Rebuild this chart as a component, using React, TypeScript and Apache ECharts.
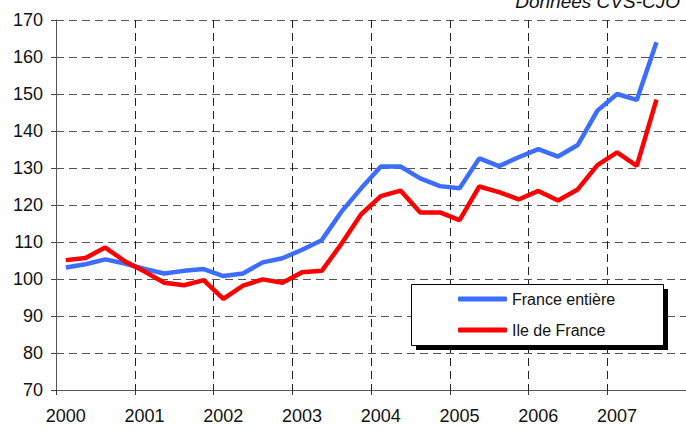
import React, { useEffect, useRef } from "react";
import * as echarts from "echarts";

const years = ["2000", "2001", "2002", "2003", "2004", "2005", "2006", "2007"];
const quarters = ["T1", "T2", "T3", "T4"];
const categories: string[] = [];
years.forEach((y) => quarters.forEach((q) => categories.push(y + q)));

const franceEntiere = [
  103.1, 104.0, 105.3, 104.2, 102.7, 101.5, 102.2, 102.7,
  100.8, 101.5, 104.5, 105.6, 107.9, 110.5, 118.2, 124.5,
  130.4, 130.4, 127.2, 125.1, 124.5, 132.6, 130.5, 132.9,
  135.1, 133.1, 136.2, 145.5, 150.0, 148.4, 164.0,
];
const ileDeFrance = [
  105.1, 105.7, 108.5, 104.8, 102.0, 99.0, 98.3, 99.7,
  94.6, 98.2, 99.9, 99.0, 101.8, 102.2, 109.5, 117.5,
  122.4, 123.9, 118.0, 118.0, 115.9, 125.0, 123.5, 121.5,
  123.8, 121.2, 124.2, 130.8, 134.2, 130.6, 148.5,
];
const seriesNames = ["France entière", "Ile de France"];
const sourceNote = "Données CVS-CJO";

const FONT = "'Liberation Sans', Arial, sans-serif";

export default function App() {
  const ref = useRef<HTMLDivElement>(null);
  useEffect(() => {
    if (!ref.current) return;
    const chart = echarts.init(ref.current, null, { renderer: "svg" });
    chart.setOption({
      animation: false,
      backgroundColor: "#ffffff",
      grid: { left: 56, top: 20, width: 639, height: 370, containLabel: false },
      xAxis: {
        type: "category",
        data: categories,
        boundaryGap: true,
        axisLine: { show: true, lineStyle: { color: "#555555", width: 1 } },
        axisTick: { show: true, interval: 3, length: 5, lineStyle: { color: "#333333" } },
        axisLabel: {
          interval: 3,
          margin: 17,
          color: "#111111",
          fontSize: 18,
          fontFamily: FONT,
          formatter: (v: string) => v.slice(0, 4),
        },
        splitLine: {
          show: true,
          interval: 3,
          lineStyle: { color: "#222222", type: [8, 5], width: 1 },
        },
      },
      yAxis: {
        type: "value",
        min: 70,
        max: 170,
        interval: 10,
        axisLine: { show: true, lineStyle: { color: "#555555", width: 1 } },
        axisTick: { show: true, length: 5, lineStyle: { color: "#444444" } },
        axisLabel: { margin: 13, color: "#111111", fontSize: 18, fontFamily: FONT },
        splitLine: { show: true, lineStyle: { color: "#555555", type: [8, 5], width: 1 } },
      },
      legend: {
        show: true,
        orient: "vertical",
        left: 458,
        top: 290,
        padding: 0,
        itemGap: 13,
        itemWidth: 49,
        itemHeight: 5,
        icon: "roundRect",
        textStyle: { fontSize: 16, lineHeight: 18, color: "#111111", fontFamily: FONT },
        data: seriesNames,
        z: 20,
      },
      graphic: [
        {
          type: "rect",
          z: 10,
          shape: { x: 416, y: 289, width: 252, height: 61 },
          style: { fill: "#000000" },
        },
        {
          type: "rect",
          z: 11,
          shape: { x: 411.5, y: 284.5, width: 252, height: 61 },
          style: { fill: "#ffffff", stroke: "#000000", lineWidth: 1 },
        },
        {
          type: "text",
          z: 11,
          x: 680,
          y: 11,
          style: {
            text: sourceNote,
            align: "right",
            verticalAlign: "bottom",
            fontSize: 19,
            fontStyle: "italic",
            fontFamily: FONT,
            fill: "#111111",
          },
        },
      ],
      series: [
        {
          name: seriesNames[0],
          type: "line",
          data: franceEntiere,
          symbol: "none",
          color: "#3d6dfd",
          lineStyle: { width: 4.5, color: "#3d6dfd" },
          z: 3,
        },
        {
          name: seriesNames[1],
          type: "line",
          data: ileDeFrance,
          symbol: "none",
          color: "#ff0000",
          lineStyle: { width: 4.5, color: "#ff0000" },
          z: 4,
        },
      ],
    });
    return () => chart.dispose();
  }, []);
  return (
    <div
      ref={ref}
      style={{ position: "fixed", left: 0, top: 0, width: 686, height: 430, background: "#fff" }}
    />
  );
}
